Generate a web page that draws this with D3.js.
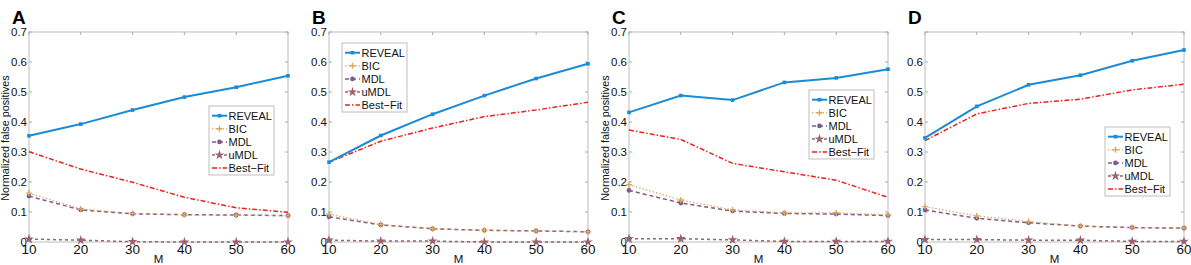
<!DOCTYPE html>
<html>
<head>
<meta charset="utf-8">
<script src="https://cdn.jsdelivr.net/npm/d3@7"></script>
<style>
  body { margin: 0; background: #fff; }
  svg text { font-family: "Liberation Sans", Arial, Helvetica, sans-serif; }
</style>
</head>
<body>
<div id="chart"></div>
<script>
// x values shared by every panel
const mValues = [10, 20, 30, 40, 50, 60];
const seriesNames = ["REVEAL", "BIC", "MDL", "uMDL", "Best-Fit"];
const yTicks = [0, 0.1, 0.2, 0.3, 0.4, 0.5, 0.6, 0.7];
const xTicks = [10, 20, 30, 40, 50, 60];

// panel A
const revealA  = [0.354, 0.393, 0.440, 0.483, 0.516, 0.554];
const bicA     = [0.163, 0.110, 0.095, 0.091, 0.089, 0.088];
const mdlA     = [0.153, 0.107, 0.094, 0.091, 0.090, 0.088];
const umdlA    = [0.010, 0.006, 0.001, 0.000, 0.000, 0.000];
const bestFitA = [0.301, 0.243, 0.199, 0.149, 0.114, 0.099];

// panel B
const revealB  = [0.266, 0.355, 0.426, 0.488, 0.545, 0.594];
const bicB     = [0.093, 0.058, 0.044, 0.039, 0.037, 0.034];
const mdlB     = [0.084, 0.057, 0.044, 0.039, 0.037, 0.034];
const umdlB    = [0.006, 0.003, 0.003, 0.000, 0.000, 0.000];
const bestFitB = [0.266, 0.336, 0.380, 0.418, 0.440, 0.466];

// panel C
const revealC  = [0.432, 0.488, 0.473, 0.532, 0.547, 0.576];
const bicC     = [0.191, 0.140, 0.107, 0.097, 0.097, 0.091];
const mdlC     = [0.172, 0.130, 0.103, 0.095, 0.093, 0.088];
const umdlC    = [0.011, 0.011, 0.007, 0.002, 0.002, 0.002];
const bestFitC = [0.373, 0.342, 0.262, 0.234, 0.206, 0.149];

// panel D
const revealD  = [0.347, 0.452, 0.524, 0.556, 0.604, 0.640];
const bicD     = [0.118, 0.087, 0.068, 0.053, 0.048, 0.046];
const mdlD     = [0.107, 0.079, 0.064, 0.053, 0.048, 0.046];
const umdlD    = [0.008, 0.008, 0.006, 0.006, 0.002, 0.002];
const bestFitD = [0.338, 0.427, 0.462, 0.476, 0.507, 0.526];

const styles = {
    "REVEAL":   {color: "#1b8bd6", width: 2,   dash: null,      marker: "square"},
    "BIC":      {color: "#dba762", width: 1.2, dash: "1.5,2",   marker: "plus"},
    "MDL":      {color: "#7d5c8c", width: 1.5, dash: "4,3",     marker: "circle"},
    "uMDL":     {color: "#9b626e", width: 1.5, dash: "3,3",     marker: "star"},
    "Best-Fit": {color: "#e8231f", width: 1.5, dash: "5,2,1.5,2", marker: null}
};

const panels = [
    {label: "A", left: 29, right: 288, ylab: true, top07: true, legend: [209, 106],
     data: [revealA, bicA, mdlA, umdlA, bestFitA]},
    {label: "B", left: 329, right: 588, ylab: false, top07: true, legend: [342, 43],
     data: [revealB, bicB, mdlB, umdlB, bestFitB]},
    {label: "C", left: 629, right: 888, ylab: true, top07: true, legend: [809, 90],
     data: [revealC, bicC, mdlC, umdlC, bestFitC]},
    {label: "D", left: 925, right: 1184, ylab: false, top07: false, legend: [1105, 127],
     data: [revealD, bicD, mdlD, umdlD, bestFitD]}
];

const W = 1191, H = 265;
const plotTop = 32, plotBottom = 242;

const svg = d3.select("#chart").append("svg")
    .attr("width", W)
    .attr("height", H);

function drawMarker(g, type, x, y, color) {
    if (type === "square") {
        g.append("rect").attr("x", x - 1.8).attr("y", y - 1.8)
            .attr("width", 3.6).attr("height", 3.6).attr("fill", color);
    } else if (type === "plus") {
        g.append("path").attr("d", `M${x - 3},${y}H${x + 3}M${x},${y - 3}V${y + 3}`)
            .attr("stroke", color).attr("stroke-width", 1.4);
    } else if (type === "circle") {
        g.append("circle").attr("cx", x).attr("cy", y).attr("r", 2.4).attr("fill", color);
    } else if (type === "star") {
        g.append("path")
            .attr("d", d3.symbol(d3.symbolStar, 30)())
            .attr("transform", `translate(${x},${y})`)
            .attr("fill", color);
    }
}

panels.forEach(p => {
    let g = svg.append("g");

    let x = d3.scaleLinear().domain([10, 60]).range([p.left, p.right]);
    let y = d3.scaleLinear().domain([0, 0.7]).range([plotBottom, plotTop]);

    // axes box
    g.append("rect")
        .attr("x", p.left).attr("y", plotTop)
        .attr("width", p.right - p.left).attr("height", plotBottom - plotTop)
        .attr("fill", "none").attr("stroke", "#bdbdbd").attr("stroke-width", 1);

    // inward ticks on all four sides
    yTicks.forEach(t => {
        g.append("line").attr("x1", p.left).attr("x2", p.left + 3)
            .attr("y1", y(t)).attr("y2", y(t)).attr("stroke", "#aaa");
        g.append("line").attr("x1", p.right).attr("x2", p.right - 3)
            .attr("y1", y(t)).attr("y2", y(t)).attr("stroke", "#aaa");
    });
    xTicks.forEach(t => {
        g.append("line").attr("x1", x(t)).attr("x2", x(t))
            .attr("y1", plotBottom).attr("y2", plotBottom - 3).attr("stroke", "#aaa");
        g.append("line").attr("x1", x(t)).attr("x2", x(t))
            .attr("y1", plotTop).attr("y2", plotTop + 3).attr("stroke", "#aaa");
    });

    // y tick labels
    g.selectAll(".ytl")
        .data(yTicks.filter(t => p.top07 || t < 0.65))
        .enter().append("text")
        .attr("x", p.left - 2)
        .attr("y", d => y(d) + 4)
        .attr("text-anchor", "end")
        .attr("font-size", 11.5)
        .attr("fill", "#111")
        .text(d => d === 0 ? "0" : d3.format(".1f")(d));

    // x tick labels
    g.selectAll(".xtl")
        .data(xTicks)
        .enter().append("text")
        .attr("x", d => x(d))
        .attr("y", plotBottom + 12)
        .attr("text-anchor", "middle")
        .attr("font-size", 13.5)
        .attr("fill", "#111")
        .text(d => d);

    g.append("text")
        .attr("x", (p.left + p.right) / 2)
        .attr("y", 263)
        .attr("text-anchor", "middle")
        .attr("font-size", 11.5)
        .attr("fill", "#111")
        .text("M");

    if (p.ylab) {
        g.append("text")
            .attr("transform", `translate(${p.left - 20},${(plotTop + plotBottom) / 2 + 1}) rotate(-90)`)
            .attr("text-anchor", "middle")
            .attr("font-size", 10.8)
            .attr("fill", "#111")
            .text("Normalized false positives");
    }

    // panel letter
    g.append("text")
        .attr("x", p.left - 17)
        .attr("y", 24)
        .attr("font-size", 19)
        .attr("font-weight", "bold")
        .attr("fill", "#000")
        .text(p.label);

    // series, drawn bottom-up so REVEAL sits on top
    let order = [3, 2, 1, 4, 0];
    order.forEach(i => {
        let name = seriesNames[i];
        let st = styles[name];
        let vals = p.data[i];
        let line = d3.line()
            .x((d, j) => x(mValues[j]))
            .y(d => y(d));
        g.append("path")
            .datum(vals)
            .attr("d", line)
            .attr("fill", "none")
            .attr("stroke", st.color)
            .attr("stroke-width", st.width)
            .attr("stroke-dasharray", st.dash);
        if (st.marker) {
            vals.forEach((v, j) => drawMarker(g, st.marker, x(mValues[j]), y(v), st.color));
        }
    });

    // legend
    let lx = p.legend[0], ly = p.legend[1];
    let leg = g.append("g").attr("transform", `translate(${lx},${ly})`);
    leg.append("rect")
        .attr("width", 65).attr("height", 69)
        .attr("fill", "#fff").attr("stroke", "#bdbdbd");
    seriesNames.forEach((name, i) => {
        let st = styles[name];
        let ry = 9.7 + i * 13.1;
        leg.append("line")
            .attr("x1", 3).attr("x2", 18)
            .attr("y1", ry).attr("y2", ry)
            .attr("stroke", st.color)
            .attr("stroke-width", st.width)
            .attr("stroke-dasharray", st.dash);
        if (st.marker) drawMarker(leg, st.marker, 10.5, ry, st.color);
        leg.append("text")
            .attr("x", 19.5)
            .attr("y", ry + 4)
            .attr("font-size", 11)
            .attr("fill", "#111")
            .text(name === "Best-Fit" ? "Best\u2212Fit" : name);
    });
});
</script>
</body>
</html>
